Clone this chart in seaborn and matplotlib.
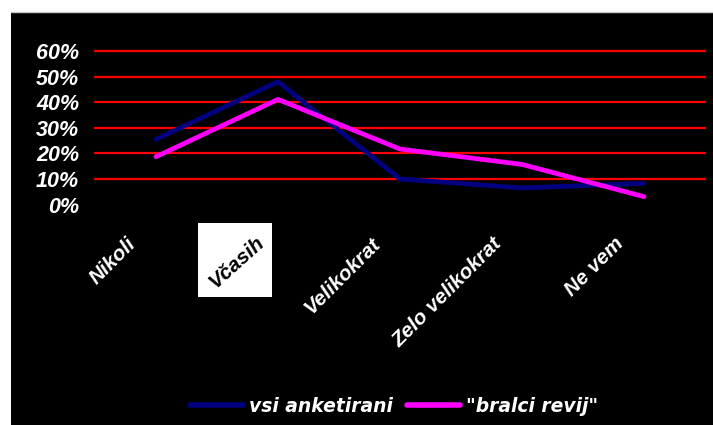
import matplotlib
matplotlib.use("Agg")
import matplotlib.pyplot as plt
import matplotlib.transforms as mtransforms
from matplotlib.patches import Rectangle
from matplotlib.lines import Line2D
import seaborn as sns
import pandas as pd

# Survey answers and shares (percent)
categories = ["Nikoli", "Včasih", "Velikokrat", "Zelo velikokrat", "Ne vem"]
vsi_anketirani = [25.5, 48.0, 10.0, 6.5, 8.3]
bralci_revij = [18.7, 41.1, 21.7, 15.7, 3.1]
series_names = ["vsi anketirani", "\"bralci revij\""]
y_ticks = [0, 10, 20, 30, 40, 50, 60]
y_tick_labels = ["0%", "10%", "20%", "30%", "40%", "50%", "60%"]

df = pd.DataFrame({
    "odgovor": categories * 2,
    "delez": vsi_anketirani + bralci_revij,
    "skupina": [series_names[0]] * len(categories) + [series_names[1]] * len(categories),
})

sns.set_theme(style="white")
plt.rcParams["font.family"] = ["Liberation Sans", "DejaVu Sans"]

W, H = 713, 425
fig = plt.figure(figsize=(W / 100, H / 100), dpi=100, facecolor="white")

# black panel with a thin grey top edge
fig.patches.append(Rectangle((11 / W, 0), (W - 11) / W, (H - 12) / H,
                             transform=fig.transFigure, facecolor="black",
                             edgecolor="none", zorder=-2))
fig.lines.append(Line2D([11 / W, 1], [(H - 12) / H] * 2, transform=fig.transFigure,
                        color="#c8c8c8", lw=1.0, zorder=-1))

y0 = H - 204.6
y60 = H - 51
ax = fig.add_axes([95 / W, y0 / H, 610 / W, (y60 - y0) / H])
ax.set_facecolor("none")

palette = {series_names[0]: "#000080", series_names[1]: "#FF00FF"}
sns.lineplot(data=df, x="odgovor", y="delez", hue="skupina", palette=palette,
             linewidth=3.4, sort=False, ax=ax, zorder=3)
for ln in ax.lines:
    ln.set_solid_capstyle("round")
    ln.set_solid_joinstyle("round")

ax.set_xlim(-0.5, len(categories) - 0.5)
ax.set_ylim(0, 60)
ax.set_yticks(y_ticks)
ax.set_yticklabels(y_tick_labels)
ax.set_xlabel("")
ax.set_ylabel("")
for s in ax.spines.values():
    s.set_visible(False)

ax.yaxis.grid(True, color="#FF0000", linewidth=1.6)
ax.xaxis.grid(False)
ax.set_axisbelow(True)
for gl in ax.yaxis.get_gridlines():
    gl.set_clip_on(False)
ax.yaxis.get_gridlines()[0].set_visible(False)

ax.tick_params(axis="y", length=0, pad=11.5, labelcolor="white", labelsize=15.5)
for t in ax.get_yticklabels():
    t.set_fontweight("bold")
    t.set_fontstyle("italic")

ax.set_xticks(range(len(categories)))
ax.set_xticklabels(categories)
ax.tick_params(axis="x", length=0, pad=26, labelcolor="white", labelsize=15)
shift = mtransforms.ScaledTranslation(-0.23, 0, fig.dpi_scale_trans)
card_shift = mtransforms.ScaledTranslation(-0.16, 0.01, fig.dpi_scale_trans)
for i, t in enumerate(ax.get_xticklabels()):
    t.set_ha("right")
    t.set_va("center")
    t.set_rotation_mode("anchor")
    t.set_fontweight("bold")
    t.set_fontstyle("italic")
    if categories[i] == "Včasih":
        t.set_rotation(42)
        t.set_color("black")
        t.set_fontsize(15)
        t.set_transform(t.get_transform() + card_shift)
    else:
        t.set_rotation(45)
        t.set_transform(t.get_transform() + shift)

# white card behind the second category label
fig.patches.append(Rectangle((198 / W, (H - 297) / H), 74 / W, 74 / H,
                             transform=fig.transFigure, facecolor="white",
                             edgecolor="none", zorder=-1))

# legend
ax.get_legend().remove()
handles = [Line2D([], [], color=palette[n], lw=4.0, solid_capstyle="round") for n in series_names]
leg = fig.legend(handles, series_names, loc="center", bbox_to_anchor=(394 / W, (H - 406) / H),
                 ncol=2, frameon=False, handlelength=2.8, handletextpad=0.3,
                 columnspacing=0.8, borderpad=0,
                 prop={"family": "DejaVu Sans", "weight": "bold", "style": "italic", "size": 13.5})
for txt in leg.get_texts():
    txt.set_color("white")

fig.savefig("out.png", dpi=100, facecolor="white")
